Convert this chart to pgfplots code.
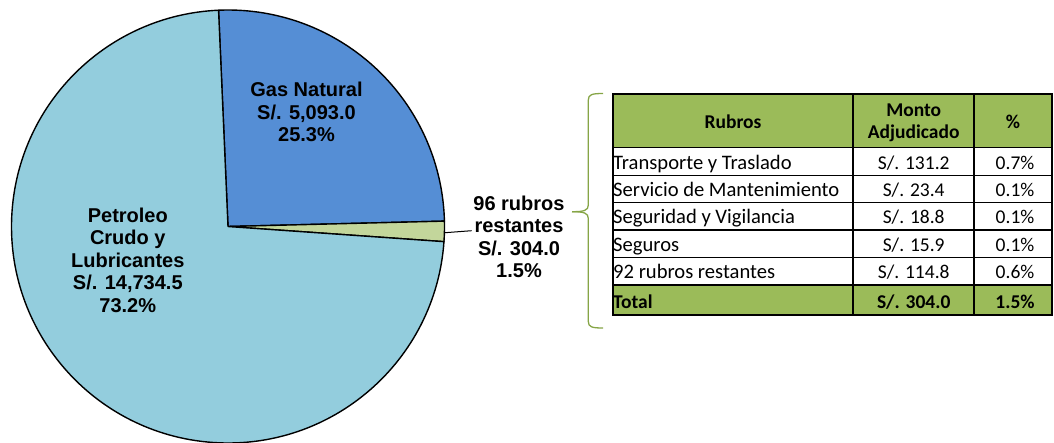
\documentclass[border=0pt]{standalone}
\usepackage{pgfplots}
\pgfplotsset{compat=1.18}
\usepackage{pgfplotstable}
\usepackage{fontspec}
\setmainfont{Carlito}
\newfontfamily\arialf{Liberation Sans}

\definecolor{gasblue}{HTML}{558ED5}
\definecolor{petcyan}{HTML}{93CDDD}
\definecolor{restgreen}{HTML}{C3D69B}
\definecolor{hdrgreen}{HTML}{9BBB59}
\definecolor{bracegreen}{HTML}{86A546}

\pgfplotstableread{
name value
GasNatural 5093.0
Restantes 304.0
Petroleo 14734.5
}\piedata

\newcommand\pl[3]{\node[anchor=base,inner sep=0pt,font=\arialf\bfseries\fontsize{20}{23}\selectfont] at (#1,#2) {#3};}
\newcommand\tl[3]{\node[anchor=base west,inner sep=0pt,font=\fontsize{20.6}{22}\selectfont] at (#1,#2) {#3};}
\newcommand\tc[3]{\node[anchor=base,inner sep=0pt,font=\fontsize{19.5}{22}\selectfont] at (#1,#2) {#3};}
\newcommand\tcb[3]{\node[anchor=base,inner sep=0pt,font=\bfseries\fontsize{19.5}{22}\selectfont] at (#1,#2) {#3};}

\begin{document}
\begin{tikzpicture}
\pgfplotstablegetelem{0}{value}\of\piedata \let\vGas\pgfplotsretval
\pgfplotstablegetelem{1}{value}\of\piedata \let\vRest\pgfplotsretval
\pgfplotstablegetelem{2}{value}\of\piedata \let\vPet\pgfplotsretval
\pgfmathsetmacro{\kGas}{\vGas/1000}
\pgfmathsetmacro{\kRest}{\vRest/1000}
\pgfmathsetmacro{\kPet}{\vPet/1000}
\pgfmathsetmacro{\total}{\kGas+\kRest+\kPet}
\pgfmathsetmacro{\aS}{92.5}
\pgfmathsetmacro{\aG}{\aS-360*\kGas/\total}
\pgfmathsetmacro{\aR}{\aG-360*\kRest/\total}
\pgfmathsetmacro{\aE}{\aS-360}
\begin{axis}[x=1pt,y=1pt,xmin=0,xmax=1054,ymin=0,ymax=442,y dir=reverse,
  hide axis,scale only axis,clip=false]
% pie slices
\filldraw[fill=gasblue,draw=black,line width=1.4pt,line join=round] (228,226.5) -- ++(\aS:216.5pt) arc[start angle=\aS,end angle=\aG,radius=216.5pt] -- cycle;
\filldraw[fill=restgreen,draw=black,line width=1.4pt,line join=round] (228,226.5) -- ++(\aG:216.5pt) arc[start angle=\aG,end angle=\aR,radius=216.5pt] -- cycle;
\filldraw[fill=petcyan,draw=black,line width=1.4pt,line join=round] (228,226.5) -- ++(\aR:216.5pt) arc[start angle=\aR,end angle=\aE,radius=216.5pt] -- cycle;
% leader line
\draw[black,line width=1pt] (445,232.7) -- (471.7,230.7);
% pie labels
\pl{306.5}{96.7}{Gas Natural}
\pl{306.5}{119.3}{S/. 5,093.0}
\pl{306.5}{141.7}{25.3\%}
\pl{127.8}{222.3}{Petroleo}
\pl{127.8}{244.8}{Crudo y}
\pl{127.8}{267.3}{Lubricantes}
\pl{127.8}{289.8}{S/. 14,734.5}
\pl{127.8}{312.2}{73.2\%}
\pl{519}{210}{96 rubros}
\pl{519}{232.3}{restantes}
\pl{519}{255}{S/. 304.0}
\pl{519}{277}{1.5\%}
% brace
\draw[bracegreen,line width=1.3pt] (603,93.5) .. controls (592,93.5) and (588.3,94.5) .. (588.3,100) -- (588.3,205) .. controls (588.3,210.5) and (584,211.7) .. (572,211.7);
\draw[bracegreen,line width=1.3pt] (572,211.7) .. controls (584,211.7) and (588.3,213) .. (588.3,218.5) -- (588.3,321.5) .. controls (588.3,327) and (592,328) .. (603,328);
% table fills
\fill[hdrgreen] (612.7,94) rectangle (1052,147.7);
\fill[hdrgreen] (612.7,285) rectangle (1052,315);
% inner lines
\draw[black,line width=1.5pt] (612.7,147.7) -- (1052,147.7);
\draw[black,line width=1.5pt] (612.7,175.7) -- (1052,175.7);
\draw[black,line width=1.5pt] (612.7,202.7) -- (1052,202.7);
\draw[black,line width=1.5pt] (612.7,230) -- (1052,230);
\draw[black,line width=1.5pt] (612.7,257.3) -- (1052,257.3);
\draw[black,line width=1.5pt] (612.7,285) -- (1052,285);
\draw[black,line width=1.8pt] (853.3,94) -- (853.3,315);
\draw[black,line width=1.8pt] (974,94) -- (974,315);
\draw[black,line width=2pt] (612.7,94) rectangle (1052,315);
% header text
\tcb{733}{128.3}{Rubros}
\tcb{913.7}{116}{Monto}
\tcb{913.7}{138.3}{Adjudicado}
\tcb{1013}{128.3}{\%}
% rows
\tl{613}{169.1}{Transporte y Traslado}
\tl{613}{196.6}{Servicio de Mantenimiento}
\tl{613}{223.7}{Seguridad y Vigilancia}
\tl{613}{251.1}{Seguros}
\tl{613}{278.6}{92 rubros restantes}
\node[anchor=base west,inner sep=0pt,font=\bfseries\fontsize{19.5}{22}\selectfont] at (613,308.3) {Total};
\tc{913.7}{169.1}{S/. 131.2}
\tc{913.7}{196.6}{S/. 23.4}
\tc{913.7}{223.7}{S/. 18.8}
\tc{913.7}{251.1}{S/. 15.9}
\tc{913.7}{278.6}{S/. 114.8}
\tcb{913.7}{308.3}{S/. 304.0}
\tc{1015}{169.1}{0.7\%}
\tc{1015}{196.6}{0.1\%}
\tc{1015}{223.7}{0.1\%}
\tc{1015}{251.1}{0.1\%}
\tc{1015}{278.6}{0.6\%}
\tcb{1015}{308.3}{1.5\%}
\end{axis}
\pgfresetboundingbox
\path (0,0) rectangle (1054pt,442pt);
\end{tikzpicture}
\end{document}
